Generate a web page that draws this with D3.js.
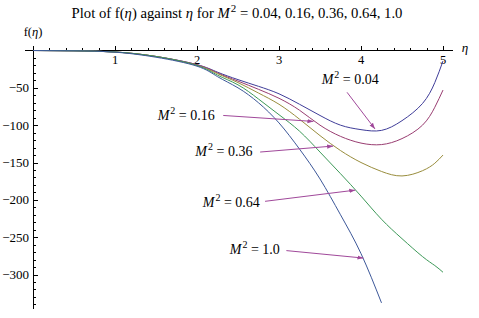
<!DOCTYPE html>
<html>
<head>
<meta charset="utf-8">
<script src="https://cdn.jsdelivr.net/npm/d3@7"></script>
<style>
  body { margin: 0; background: #fff; }
  text { font-family: "Liberation Serif", "Times New Roman", serif; }
</style>
</head>
<body>
<div id="chart"></div>
<script>
'use strict';

// eta grid shared by all curves
const eta = [0, 0.5, 1, 1.5, 2, 2.25, 2.5, 2.75, 3, 3.25, 3.5, 3.75, 4, 4.25, 4.5, 4.75, 4.9, 5];

// f(eta), one list per M^2
const f004 = [0, -0.4, -2, -8, -19, -29, -39, -48, -58, -72, -87, -100, -106, -107, -94, -71, -43, -14];
const f016 = [0, -0.4, -2, -8, -19, -30, -41, -52, -64, -80, -100, -115, -124, -126, -118, -100, -76, -53];
const f036 = [0, -0.4, -2, -8, -20, -31, -43, -57, -72, -92, -114, -134, -150, -162, -168, -161, -151, -140];
const f064 = [0, -0.4, -2, -8, -20, -33, -46, -65, -86, -108, -136, -165, -195, -226, -252, -276, -288, -297];
const f100 = [0, -0.4, -2.2, -9, -21, -35, -50, -70, -97, -132, -172, -220, -272, -338, null, null, null, null];

const mValues = ["0.04", "0.16", "0.36", "0.64", "1.0"];
const colors = ["#3f3d99", "#993d71", "#998d3d", "#3d9958", "#3d5899"];

// annotation label anchor [eta, f] and arrow [from, to] in data units
const labelPos = [[3.52, -45], [1.52, -93], [1.98, -141], [2.07, -209], [2.40, -273]];
const arrowFrom = [[3.83, -56], [2.32, -87], [2.77, -136], [2.83, -202], [3.09, -268]];
const arrowTo = [[4.17, -105], [3.42, -95], [3.66, -128], [3.93, -187], [4.03, -278]];

const xTicks = [1, 2, 3, 4, 5];
const yTicks = [-50, -100, -150, -200, -250, -300];

const width = 479, height = 318;

const svg = d3.select("#chart").append("svg")
    .attr("width", width)
    .attr("height", height);

const x = d3.scaleLinear().domain([0, 5]).range([33, 443]);
const y = d3.scaleLinear().domain([0, -300]).range([50.5, 274.5]);

// title
const title = svg.append("text")
    .attr("x", 237)
    .attr("y", 18)
    .attr("text-anchor", "middle")
    .style("font-size", "14.7px");
title.append("tspan").text("Plot of f(");
title.append("tspan").style("font-style", "italic").text("η");
title.append("tspan").text(") against ");
title.append("tspan").style("font-style", "italic").text("η");
title.append("tspan").text(" for ");
title.append("tspan").style("font-style", "italic").text("M");
title.append("tspan").attr("dy", -6).attr("dx", 1).style("font-size", "11px").text("2");
title.append("tspan").attr("dy", 6).text(" = 0.04, 0.16, 0.36, 0.64, 1.0");

// axes lines
const axes = svg.append("g").attr("stroke", "#000").attr("stroke-width", 1).attr("shape-rendering", "crispEdges");
axes.append("line")
    .attr("x1", x(-0.1)).attr("x2", x(5.12))
    .attr("y1", y(0)).attr("y2", y(0));
axes.append("line")
    .attr("x1", x(0)).attr("x2", x(0))
    .attr("y1", y(6)).attr("y2", y(-346));

// x ticks (pointing up), minor every 0.2
const xMinor = d3.range(0.2, 5.01, 0.2);
axes.selectAll(".xt")
    .data(xMinor)
    .enter().append("line")
    .attr("x1", d => Math.round(x(d)) + 0.5).attr("x2", d => Math.round(x(d)) + 0.5)
    .attr("y1", y(0))
    .attr("y2", d => y(0) - (Math.abs(d - Math.round(d)) < 1e-6 ? 5 : 3));

// y ticks (pointing right), minor every 10
const yMinor = d3.range(-10, -341, -10);
axes.selectAll(".yt")
    .data(yMinor)
    .enter().append("line")
    .attr("x1", x(0))
    .attr("x2", d => x(0) + (d % 50 === 0 ? 5 : 2.5))
    .attr("y1", d => Math.round(y(d)) + 0.5).attr("y2", d => Math.round(y(d)) + 0.5);

svg.selectAll(".xl")
    .data(xTicks)
    .enter().append("text")
    .attr("x", d => x(d))
    .attr("y", y(0) + 13)
    .attr("text-anchor", "middle")
    .style("font-size", "12.5px")
    .text(d => d);

svg.selectAll(".yl")
    .data(yTicks)
    .enter().append("text")
    .attr("x", x(0) - 4)
    .attr("y", d => y(d) + 4.5)
    .attr("text-anchor", "end")
    .style("font-size", "13px")
    .text(d => "\u2212" + Math.abs(d));

// axis labels
const yLab = svg.append("text")
    .attr("x", x(0))
    .attr("y", 36)
    .attr("text-anchor", "middle")
    .style("font-size", "12.5px");
yLab.append("tspan").text("f(");
yLab.append("tspan").style("font-style", "italic").text("η");
yLab.append("tspan").text(")");

svg.append("text")
    .attr("x", 465)
    .attr("y", y(0) + 1)
    .attr("text-anchor", "middle")
    .style("font-size", "13px")
    .style("font-style", "italic")
    .text("η");

// curves
const series = [f004, f016, f036, f064, f100];
const line = d3.line()
    .defined(d => d[1] !== null)
    .x(d => x(d[0]))
    .y(d => y(d[1]))
    .curve(d3.curveNatural);

svg.append("g")
    .selectAll("path")
    .data(series)
    .enter().append("path")
    .attr("fill", "none")
    .attr("stroke", (d, i) => colors[i])
    .attr("stroke-width", 1)
    .attr("d", d => line(eta.map((e, j) => [e, d[j]])));

// annotations
const arrowColor = "#a0489a";
svg.append("defs").append("marker")
    .attr("id", "head")
    .attr("viewBox", "0 0 10 10")
    .attr("refX", 10).attr("refY", 5)
    .attr("markerWidth", 6).attr("markerHeight", 6)
    .attr("markerUnits", "userSpaceOnUse")
    .attr("orient", "auto")
    .append("path")
    .attr("d", "M0,1.5L10,5L0,8.5Z")
    .attr("fill", arrowColor);

svg.append("g")
    .selectAll("line")
    .data(mValues)
    .enter().append("line")
    .attr("x1", (d, i) => x(arrowFrom[i][0])).attr("y1", (d, i) => y(arrowFrom[i][1]))
    .attr("x2", (d, i) => x(arrowTo[i][0])).attr("y2", (d, i) => y(arrowTo[i][1]))
    .attr("stroke", arrowColor)
    .attr("stroke-width", 1)
    .attr("marker-end", "url(#head)");

const labels = svg.append("g")
    .selectAll("text")
    .data(mValues)
    .enter().append("text")
    .attr("x", (d, i) => x(labelPos[i][0]))
    .attr("y", (d, i) => y(labelPos[i][1]))
    .style("font-size", "14px");
labels.append("tspan").style("font-style", "italic").text("M");
labels.append("tspan").attr("dy", -6).attr("dx", 1).style("font-size", "10px").text("2");
labels.append("tspan").attr("dy", 6).text(d => " = " + d);
</script>
</body>
</html>
